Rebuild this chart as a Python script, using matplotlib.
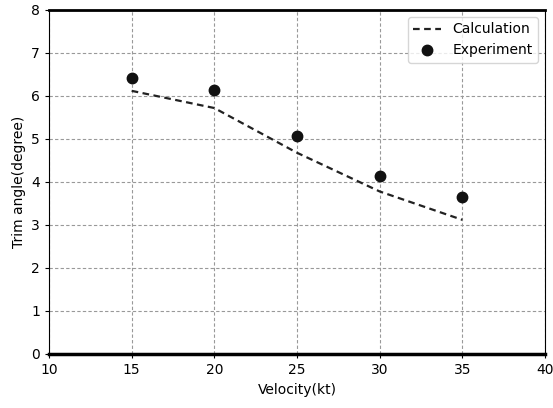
import matplotlib.pyplot as plt

velocity = [15, 20, 25, 30, 35]
calc_trim = [6.12, 5.72, 4.68, 3.78, 3.12]
exp_trim = [6.43, 6.14, 5.06, 4.14, 3.65]

xticks = [10, 15, 20, 25, 30, 35, 40]
yticks = [0, 1, 2, 3, 4, 5, 6, 7, 8]

fig = plt.figure(figsize=(5.53, 4.08), dpi=100)
ax = fig.add_axes([0.0886, 0.1324, 0.8969, 0.8431])

ax.plot(velocity, calc_trim, color="#222222", ls=(0, (3, 2)), lw=1.6, label="Calculation")
ax.plot(velocity, exp_trim, "o", color="#111111", ms=7.5, ls="none", label="Experiment")

ax.set_xlim(10, 40)
ax.set_ylim(0, 8)
ax.set_xticks(xticks)
ax.set_yticks(yticks)
ax.grid(True, ls=(0, (3, 2)), color="#999999", lw=0.8)

ax.spines["top"].set_linewidth(2)
ax.spines["bottom"].set_linewidth(2.5)
ax.spines["left"].set_linewidth(0.8)
ax.spines["right"].set_linewidth(0.8)
ax.tick_params(labelsize=10, length=3)

ax.set_xlabel("Velocity(kt)", fontsize=10)
ax.set_ylabel("Trim angle(degree)", fontsize=10)
ax.legend(loc="upper right", fontsize=10)

fig.savefig("out.png", dpi=100)
